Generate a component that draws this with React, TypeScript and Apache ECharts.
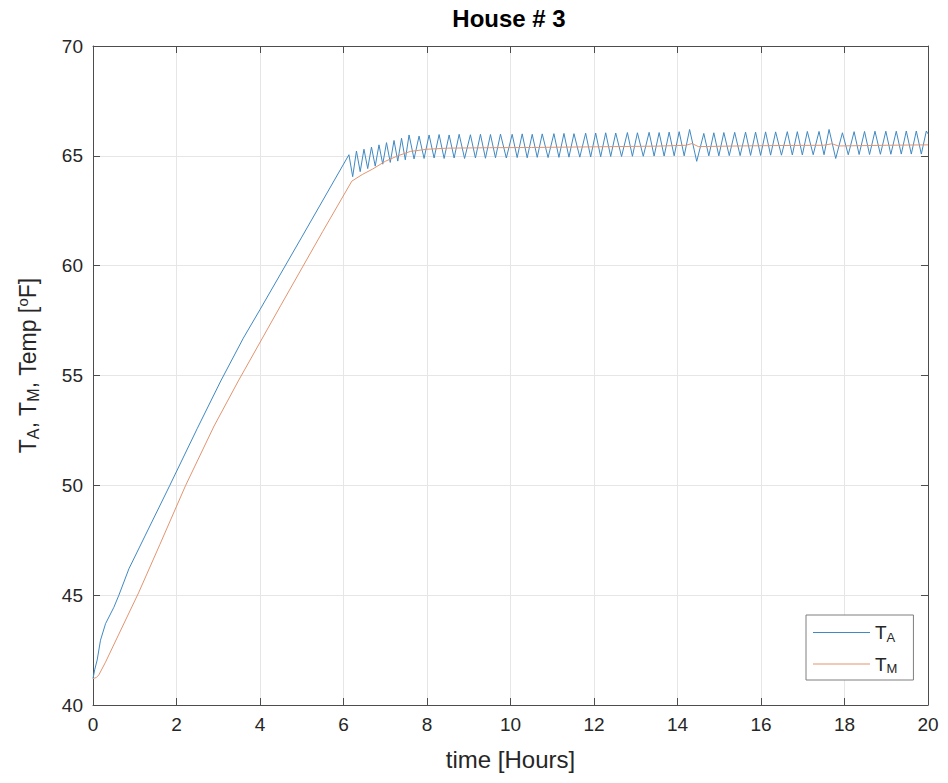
import React, { useEffect, useRef } from "react";
import * as echarts from "echarts";

// T_A (air temperature) readings: time [hours] and temperature [°F]
const taTime = [
  0, 0.04, 0.1, 0.18, 0.3, 0.5, 0.62, 0.86, 1.84, 2.5, 3.06, 3.6, 4.0, 5.0,
  6.13, 6.22, 6.31, 6.4, 6.49, 6.58, 6.67, 6.76, 6.85, 6.94, 7.03, 7.12, 7.21, 7.3, 7.39, 7.48, 7.57, 7.69, 7.81, 7.93,
  8.05, 8.17, 8.29, 8.41, 8.53, 8.65, 8.77, 8.9, 9.04, 9.16, 9.28, 9.4, 9.52, 9.64, 9.76, 9.9,
  10.04, 10.16, 10.28, 10.4, 10.52, 10.64, 10.76, 10.9, 11.04, 11.16, 11.28, 11.4, 11.52, 11.66, 11.8, 11.92,
  12.04, 12.16, 12.28, 12.4, 12.52, 12.66, 12.8, 12.92, 13.04, 13.18, 13.32, 13.44, 13.56, 13.68, 13.8, 13.92,
  14.04, 14.16, 14.29, 14.46, 14.63, 14.75, 14.87, 14.99, 15.11, 15.24, 15.37, 15.5, 15.63, 15.75, 15.87, 15.99,
  16.11, 16.23, 16.35, 16.49, 16.63, 16.75, 16.87, 16.99, 17.11, 17.25, 17.39, 17.51, 17.63, 17.79, 17.95, 18.09,
  18.23, 18.35, 18.48, 18.6, 18.73, 18.86, 18.99, 19.11, 19.24, 19.36, 19.48, 19.6, 19.72, 19.84, 19.96, 20.0,
];
const taTemp = [
  41.2, 41.6, 42.05, 42.95, 43.7, 44.45, 45.0, 46.2, 50.0, 52.6, 54.75, 56.7, 58.0, 61.3,
  65.05, 64.05, 65.22, 64.28, 65.3, 64.42, 65.4, 64.53, 65.5, 64.62, 65.6, 64.7, 65.7, 64.76, 65.8, 64.82, 65.95, 64.86, 65.9, 64.88,
  65.95, 64.9, 65.97, 64.88, 65.95, 64.9, 65.98, 64.88, 65.96, 64.9, 65.98, 64.89, 65.97, 64.91, 65.99, 64.9,
  65.98, 64.92, 66.0, 64.91, 65.98, 64.93, 66.0, 64.92, 66.01, 64.93, 66.02, 64.94, 66.01, 64.94, 66.03, 64.95,
  66.04, 64.96, 66.05, 64.97, 66.04, 64.97, 66.06, 64.98, 66.05, 64.98, 66.07, 64.99, 66.06, 64.99, 66.08, 65.0,
  66.1, 65.0, 66.2, 64.75, 66.02, 65.0, 66.05, 65.0, 66.06, 65.01, 66.07, 65.01, 66.08, 65.02, 66.08, 65.02,
  66.09, 65.03, 66.09, 65.03, 66.1, 65.04, 66.1, 65.04, 66.11, 65.05, 66.11, 65.05, 66.2, 64.88, 66.05, 65.05,
  66.1, 65.06, 66.11, 65.06, 66.12, 65.07, 66.12, 65.07, 66.12, 65.08, 66.13, 65.08, 66.13, 65.08, 66.13, 66.0,
];

// T_M (mass temperature) readings
const tmTime = [
  0, 0.08, 0.14, 0.3, 0.6, 1.09, 1.6, 2.22, 2.9, 3.48, 4.5, 5.5, 6.2, 6.45, 6.7, 7.0, 7.3, 7.6, 8.0, 8.5,
  9.5, 10.5, 11.5, 12.5, 13.5, 14.2, 14.35, 14.5, 15.5, 16.5, 17.5, 17.7, 17.85, 19.0, 20.0,
];
const tmTemp = [
  41.2, 41.25, 41.37, 41.95, 43.15, 45.1, 47.3, 50.0, 52.7, 54.75, 58.2, 61.55, 63.85, 64.15, 64.4, 64.75, 65.0, 65.2, 65.3, 65.35,
  65.37, 65.38, 65.4, 65.42, 65.44, 65.48, 65.56, 65.42, 65.45, 65.47, 65.48, 65.55, 65.45, 65.48, 65.5,
];

const seriesNames = ["T_A", "T_M"];
const seriesColors = ["#4089c2", "#e29470"];

const FONT = "'Liberation Sans', Arial, Helvetica, sans-serif";
const AXIS_COLOR = "#4d4d4d";
const LABEL_COLOR = "#262626";

export default function App() {
  const ref = useRef<HTMLDivElement>(null);

  useEffect(() => {
    if (!ref.current) return;
    const chart = echarts.init(ref.current, null, { renderer: "svg" });

    const ta = taTime.map((t, i) => [t, taTemp[i]]);
    const tm = tmTime.map((t, i) => [t, tmTemp[i]]);

    const axisCommon = {
      type: "value" as const,
      axisLine: { show: true, onZero: false, lineStyle: { color: AXIS_COLOR, width: 1 } },
      axisTick: { show: true, inside: true, length: 7, lineStyle: { color: AXIS_COLOR, width: 1 } },
    };

    const option: any = {
      animation: false,
      backgroundColor: "#ffffff",
      title: {
        text: "House # 3",
        left: 504,
        top: 1,
        textAlign: "center",
        textStyle: { fontFamily: FONT, fontSize: 24, fontWeight: "bold", color: "#000" },
      },
      grid: { left: 93, right: 20, top: 46, bottom: 78, containLabel: false },
      legend: {
        orient: "vertical",
        left: 806,
        top: 615,
        padding: [8, 16, 5, 7],
        icon: "rect",
        itemWidth: 57,
        itemHeight: 1.2,
        itemGap: 11,
        backgroundColor: "#ffffff",
        borderColor: "#7f7f7f",
        borderWidth: 1,
        borderRadius: 0,
        data: seriesNames,
        formatter: (name: string) => {
          const [a, b] = name.split("_");
          return `{n|${a}}{s|${b}}`;
        },
        textStyle: {
          fontFamily: FONT,
          color: LABEL_COLOR,
          rich: {
            n: { fontFamily: FONT, fontSize: 19, color: LABEL_COLOR },
            s: { fontFamily: FONT, fontSize: 13, color: LABEL_COLOR, padding: [9, 0, 0, 0] },
          },
        },
      },
      xAxis: [
        {
          ...axisCommon,
          position: "bottom",
          min: 0,
          max: 20,
          interval: 2,
          axisLabel: { fontFamily: FONT, fontSize: 19, color: LABEL_COLOR, margin: 10 },
          splitLine: { show: true, lineStyle: { color: "#e6e6e6", width: 1 } },
          name: "time [Hours]",
          nameLocation: "middle",
          nameGap: 42,
          nameTextStyle: { fontFamily: FONT, fontSize: 24, color: LABEL_COLOR },
        },
        {
          ...axisCommon,
          position: "top",
          min: 0,
          max: 20,
          interval: 2,
          axisLabel: { show: false },
          splitLine: { show: false },
        },
      ],
      yAxis: [
        {
          ...axisCommon,
          position: "left",
          min: 40,
          max: 70,
          interval: 5,
          axisLabel: { fontFamily: FONT, fontSize: 19, color: LABEL_COLOR, margin: 10 },
          splitLine: { show: true, lineStyle: { color: "#e6e6e6", width: 1 } },
          name: "{n|T}{s|A}{n|, T}{s|M}{n|, Temp [}{p|o}{n|F]}",
          nameLocation: "middle",
          nameRotate: 90,
          nameGap: 52,
          nameTextStyle: {
            fontFamily: FONT,
            fontSize: 23,
            color: LABEL_COLOR,
            padding: [0, 0, 0, 20],
            rich: {
              n: { fontFamily: FONT, fontSize: 23, color: LABEL_COLOR },
              s: { fontFamily: FONT, fontSize: 16, color: LABEL_COLOR, padding: [11, 0, 0, 0] },
              p: { fontFamily: FONT, fontSize: 15, color: LABEL_COLOR, padding: [0, 0, 11, 0] },
            },
          },
        },
        {
          ...axisCommon,
          position: "right",
          min: 40,
          max: 70,
          interval: 5,
          axisLabel: { show: false },
          splitLine: { show: false },
        },
      ],
      series: [
        {
          name: seriesNames[0],
          type: "line",
          xAxisIndex: 0,
          yAxisIndex: 0,
          data: ta,
          symbol: "none",
          color: seriesColors[0],
          lineStyle: { color: seriesColors[0], width: 1 },
        },
        {
          name: seriesNames[1],
          type: "line",
          xAxisIndex: 0,
          yAxisIndex: 0,
          data: tm,
          symbol: "none",
          color: seriesColors[1],
          lineStyle: { color: seriesColors[1], width: 1 },
        },
      ],
    };

    chart.setOption(option);
    return () => chart.dispose();
  }, []);

  return (
    <div
      ref={ref}
      style={{ position: "fixed", left: 0, top: 0, width: 948, height: 783, background: "#fff" }}
    />
  );
}
